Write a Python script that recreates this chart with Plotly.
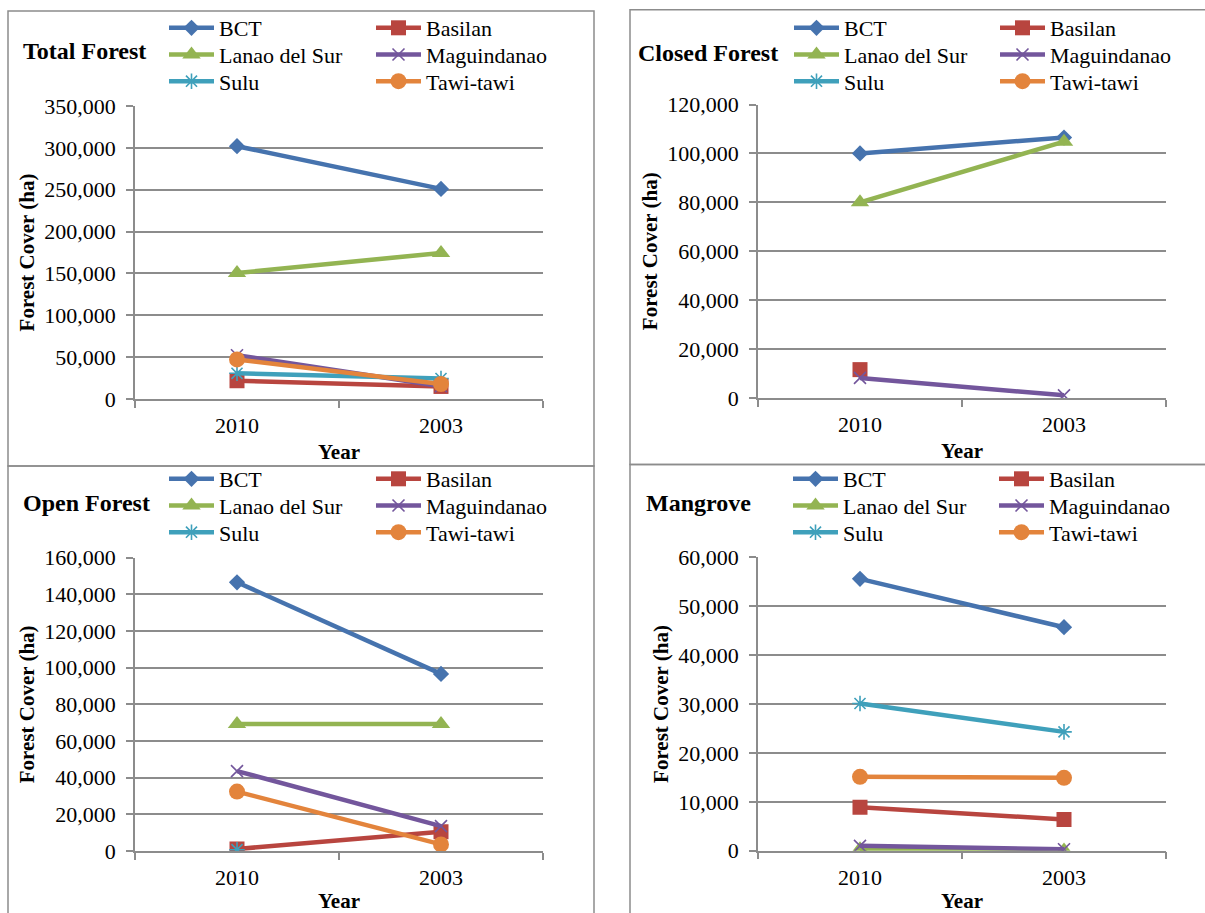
import plotly.graph_objects as go

# Forest cover (ha) by province, two survey years
years = ["2010", "2003"]
regions = ["BCT", "Basilan", "Lanao del Sur", "Maguindanao", "Sulu", "Tawi-tawi"]

total_2010 = [302000, 21800, 150500, 52300, 30700, 47300]
total_2003 = [251000, 15000, 174500, 15200, 24400, 17900]

closed_2010 = [100000, 11600, 80000, 8200, None, None]
closed_2003 = [106500, None, 104800, 1100, None, None]

open_2010 = [146600, 1100, 69300, 43600, 700, 32400]
open_2003 = [96600, 10500, 69300, 13600, None, 3600]

mangrove_2010 = [55600, 8900, 300, 1000, 30100, 15100]
mangrove_2003 = [45700, 6400, 50, 300, 24300, 14900]

# Series styling (Excel-like palette and markers)
colors = ["#4673AE", "#B8453F", "#93B452", "#73569C", "#3FA0BB", "#E3843C"]
symbols = ["diamond", "square", "triangle-up", "x-thin", "asterisk", "circle"]
sizes = [12.5, 15, 16, 12, 13, 16]

FONT = "Liberation Serif, Times New Roman, serif"
GRID = "#8c8c8c"
W, H = 1205, 913


def fx(px):
    return px / W


def fy(py):
    return 1 - py / H


# title, values per year, y max, y step, plot box (x0, x1, y0, y1), frame box,
# title position, legend column x positions, first legend row y
panels = [
    ("Total Forest", total_2010, total_2003, 350000, 50000,
     (135, 543, 106, 399), (8, 594, 11, 466), (21, 51), (170, 377), 28),
    ("Closed Forest", closed_2010, closed_2003, 120000, 20000,
     (758, 1166, 104.5, 398), (630, 1212, 9.7, 464.5), (636, 53), (795, 1001), 28),
    ("Open Forest", open_2010, open_2003, 160000, 20000,
     (135, 543, 557.7, 851), (8, 594, 466, 920), (21, 503), (170, 377), 479),
    ("Mangrove", mangrove_2010, mangrove_2003, 60000, 10000,
     (758, 1166, 557.3, 850.7), (630, 1212, 464.5, 920), (643.5, 503), (794, 1000), 479),
]
ROW_GAP = 26.7

fig = go.Figure()
layout = dict(
    width=W, height=H, autosize=False,
    margin=dict(l=0, r=0, t=0, b=0, autoexpand=False),
    paper_bgcolor="white", plot_bgcolor="white",
    font=dict(family=FONT, size=22, color="black"),
    showlegend=True,
    shapes=[], annotations=[],
)

lid = 0
for i, (title, v2010, v2003, ymax, dtick, pbox, fbox, tpos, lcols, lrow) in enumerate(panels, start=1):
    xa = "x" if i == 1 else f"x{i}"
    ya = "y" if i == 1 else f"y{i}"
    for k, name in enumerate(regions):
        lid += 1
        legend_id = "legend" if lid == 1 else f"legend{lid}"
        line_only = symbols[k] in ("x-thin", "asterisk")
        fig.add_trace(go.Scatter(
            x=years, y=[v2010[k], v2003[k]],
            name=name, mode="lines+markers",
            xaxis=xa, yaxis=ya, legend=legend_id, showlegend=True,
            line=dict(color=colors[k], width=4.5),
            marker=dict(symbol=symbols[k], size=sizes[k], color=colors[k],
                        line=dict(color=colors[k], width=1.6 if line_only else 0)),
            connectgaps=False, hoverinfo="x+y+name",
        ))
        # one legend per entry: two columns, three rows
        col, row = k % 2, k // 2
        layout[legend_id] = dict(
            x=fx(lcols[col] - 6), y=fy(lrow + row * ROW_GAP),
            xanchor="left", yanchor="middle", visible=True,
            orientation="v", bgcolor="rgba(0,0,0,0)", borderwidth=0, itemwidth=45,
            font=dict(family=FONT, size=22, color="black"),
        )

    x0, x1, y0, y1 = pbox
    layout["xaxis" if i == 1 else f"xaxis{i}"] = dict(
        domain=[fx(x0), fx(x1)], anchor=ya, type="category",
        range=[-0.5, 1.5], tickson="boundaries",
        ticks="outside", ticklen=7, tickcolor=GRID, tickwidth=1.5,
        showline=True, linecolor=GRID, linewidth=1.5,
        showgrid=False, zeroline=False,
        tickfont=dict(family=FONT, size=22, color="black"),
        ticklabelstandoff=6,
        title=dict(text="<b>Year</b>", font=dict(family=FONT, size=21, color="black"), standoff=7),
    )
    layout["yaxis" if i == 1 else f"yaxis{i}"] = dict(
        domain=[fy(y1), fy(y0)], anchor=xa,
        range=[0, ymax], dtick=dtick, tickformat=",d",
        ticks="outside", ticklen=7, tickcolor=GRID, tickwidth=1.5,
        showline=True, linecolor=GRID, linewidth=1.5,
        showgrid=True, gridcolor=GRID, gridwidth=1.5, zeroline=False,
        tickfont=dict(family=FONT, size=22, color="black"),
        ticklabelstandoff=6,
        title=dict(text="<b>Forest Cover (ha)</b>", font=dict(family=FONT, size=21, color="black"), standoff=4),
    )

    # chart frame
    bx0, bx1, by0, by1 = fbox
    layout["shapes"].append(dict(
        type="rect", xref="paper", yref="paper",
        x0=fx(bx0), x1=fx(bx1), y0=fy(by1), y1=fy(by0),
        line=dict(color=GRID, width=1.5), fillcolor="rgba(0,0,0,0)", layer="below",
    ))

    # chart title
    layout["annotations"].append(dict(
        text=f"<b>{title}</b>", xref="paper", yref="paper",
        x=fx(tpos[0]), y=fy(tpos[1]), xanchor="left", yanchor="middle",
        showarrow=False, font=dict(family=FONT, size=24, color="black"),
    ))

fig.update_layout(**layout)
fig.write_html("out.html")
